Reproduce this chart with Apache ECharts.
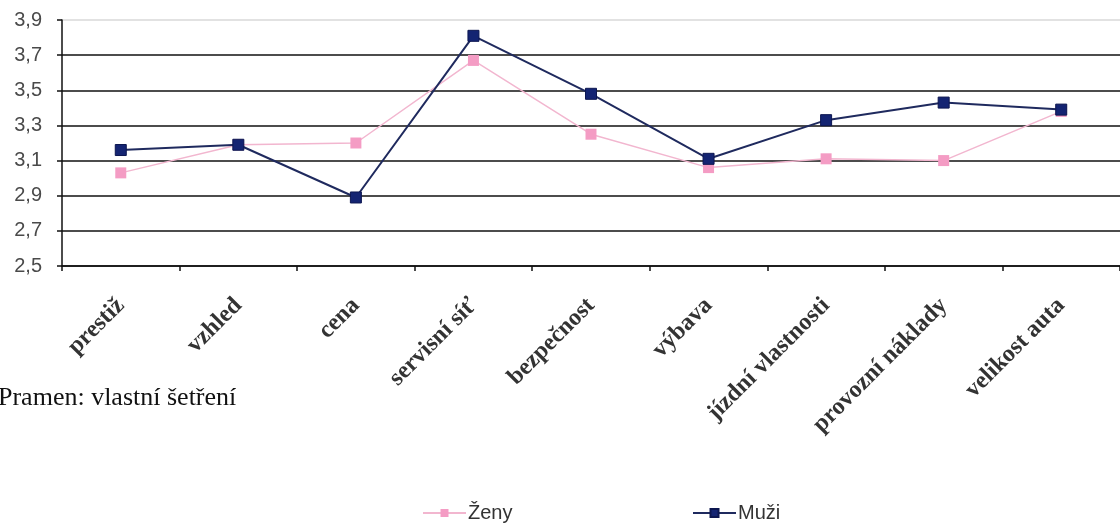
<!DOCTYPE html>
<html>
<head>
<meta charset="utf-8">
<script src="https://cdn.jsdelivr.net/npm/echarts@6/dist/echarts.min.js"></script>
<style>
  html, body { margin: 0; padding: 0; background: #fff; }
  #chart { width: 1120px; height: 524px; }
</style>
</head>
<body>
<div id="chart"></div>
<script>
// Hodnocení faktorů při výběru auta – průměrné skóre podle pohlaví
const categories = ['prestiž', 'vzhled', 'cena', 'servisní síť', 'bezpečnost', 'výbava', 'jízdní vlastnosti', 'provozní náklady', 'velikost auta'];
const zeny = [3.03, 3.19, 3.20, 3.67, 3.25, 3.06, 3.11, 3.10, 3.38];
const muzi = [3.16, 3.19, 2.89, 3.81, 3.48, 3.11, 3.33, 3.43, 3.39];
const yTicks = [2.5, 2.7, 2.9, 3.1, 3.3, 3.5, 3.7, 3.9];
const sourceNote = 'Pramen: vlastní šetření';

const chart = echarts.init(document.getElementById('chart'), null, { renderer: 'canvas' });

// grid lines: dark for all ticks, pale for the top one
const gridColors = yTicks.map((v, i) => i === yTicks.length - 1 ? '#d8d8d8' : '#111');

const legendText = { fontFamily: '"Liberation Sans", Arial, sans-serif', fontSize: 20, color: '#333', padding: [0, 0, 0, -3] };

chart.setOption({
  animation: false,
  backgroundColor: '#fff',
  grid: { left: 62, top: 20, bottom: 258, right: -5, containLabel: false },
  xAxis: {
    type: 'category',
    data: categories,
    boundaryGap: true,
    axisLine: { lineStyle: { color: '#111', width: 1.5 } },
    axisTick: { show: true, alignWithLabel: false, length: 5, lineStyle: { color: '#111', width: 1.5 } },
    axisLabel: {
      interval: 0,
      rotate: 45,
      margin: 36,
      fontFamily: '"Liberation Serif", "Times New Roman", serif',
      fontWeight: 'bold',
      fontSize: 24,
      color: '#333'
    },
    splitLine: { show: false }
  },
  yAxis: {
    type: 'value',
    min: yTicks[0],
    max: yTicks[yTicks.length - 1],
    interval: 0.2,
    axisLine: { show: true, lineStyle: { color: '#111', width: 1.5 } },
    axisTick: { show: true, length: 5, lineStyle: { color: '#111', width: 1.5 } },
    axisLabel: {
      margin: 20,
      fontFamily: '"Liberation Sans", Arial, sans-serif',
      fontSize: 20,
      color: '#4a4a4a',
      formatter: v => v.toFixed(1).replace('.', ',')
    },
    splitLine: { show: true, lineStyle: { color: gridColors, width: 1.5 } }
  },
  legend: [
    { data: ['Ženy'], left: 417, top: 498, itemWidth: 43, itemHeight: 10, textStyle: legendText },
    { data: ['Muži'], left: 687, top: 498, itemWidth: 43, itemHeight: 10, textStyle: legendText }
  ],
  graphic: [
    {
      type: 'text',
      left: -2, top: 385,
      style: {
        text: sourceNote,
        font: '26px "Liberation Serif", "Times New Roman", serif',
        fill: '#111'
      }
    }
  ],
  series: [
    {
      name: 'Ženy',
      type: 'line',
      data: zeny,
      symbol: 'rect',
      symbolSize: 11,
      lineStyle: { color: '#f2b6cf', width: 1.5 },
      itemStyle: { color: '#f49cc4' },
      z: 2
    },
    {
      name: 'Muži',
      type: 'line',
      data: muzi,
      symbol: 'rect',
      symbolSize: 11,
      lineStyle: { color: '#1f2a5e', width: 2 },
      itemStyle: { color: '#142472', borderColor: '#0c1650', borderWidth: 1 },
      z: 3
    }
  ]
});
</script>
</body>
</html>
